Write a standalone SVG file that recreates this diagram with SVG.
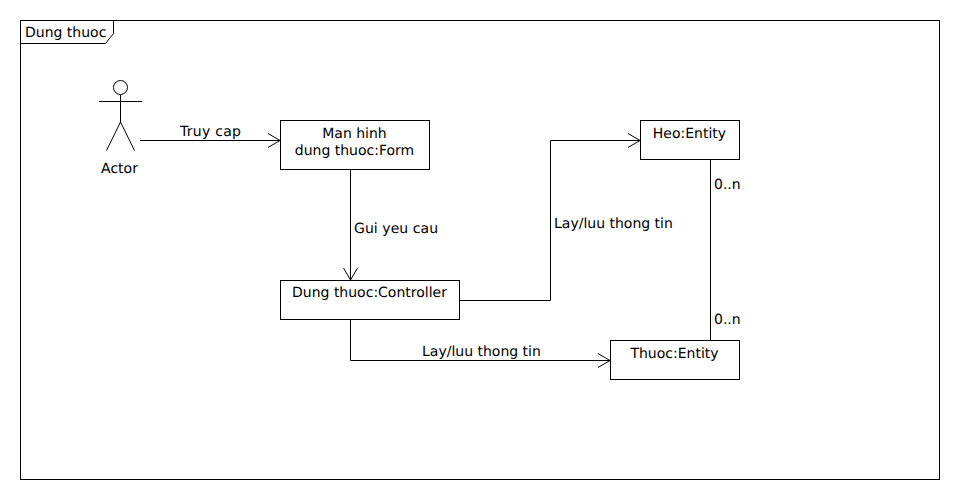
<svg xmlns="http://www.w3.org/2000/svg" width="960" height="500" viewBox="0 0 960 500">
<defs><marker id="a" markerUnits="userSpaceOnUse" markerWidth="16" markerHeight="16" refX="13" refY="8" orient="auto"><path d="M1 1L13 8L1 15" fill="none" stroke="#000"/></marker></defs>
<style>text{font-family:"DejaVu Sans",sans-serif;font-size:14px;fill:#000;text-rendering:geometricPrecision}.m{text-anchor:middle}.b{fill:#fff;stroke:#000;stroke-width:1}.l{fill:none;stroke:#000;stroke-width:1}</style>
<rect width="960" height="500" fill="#fff"/>
<g id="frame"><rect class="b" x="20.5" y="20.5" width="919" height="459"/><path class="l" d="M20.5 43.500H105.500L113.500 33.500V20.500"/><text x="25" y="37">Dung thuoc</text></g>
<g id="connectors">
<path class="l" marker-end="url(#a)" d="M140 140.500H280"/>
<path class="l" marker-end="url(#a)" d="M350.500 170V280"/>
<path class="l" marker-end="url(#a)" d="M460 300.500H550.500V140.500H640"/>
<path class="l" marker-end="url(#a)" d="M350.500 320V360.500H610"/>
<path class="l" d="M710.500 160V340"/>
<text x="180" y="136" textLength="61">Truy cap</text><text x="354" y="233" textLength="84">Gui yeu cau</text><text x="554" y="228">Lay/luu thong tin</text><text x="422" y="356">Lay/luu thong tin</text><text x="714" y="189">0..n</text><text x="714" y="324">0..n</text>
</g>
<g id="actor"><circle class="l" cx="120.500" cy="87.500" r="7"/><path class="l" d="M120.500 95V122M99 101.500H142M120.500 122L106.500 150.500M120.500 122L134.500 150.500"/><text class="m" x="119.500" y="173">Actor</text></g>
<g id="form"><rect class="b" x="280.500" y="120.500" width="149" height="49"/><text class="m" x="354.500" y="138">Man hinh</text><text class="m" x="354.500" y="155">dung thuoc:Form</text></g>
<g id="controller"><rect class="b" x="280.500" y="280.500" width="179" height="39"/><text class="m" x="369.500" y="297">Dung thuoc:Controller</text></g>
<g id="heo"><rect class="b" x="640.500" y="120.500" width="99" height="39"/><text class="m" x="689.500" y="138">Heo:Entity</text></g>
<g id="thuoc"><rect class="b" x="610.500" y="340.500" width="129" height="39"/><text class="m" x="674.500" y="358">Thuoc:Entity</text></g>
</svg>
